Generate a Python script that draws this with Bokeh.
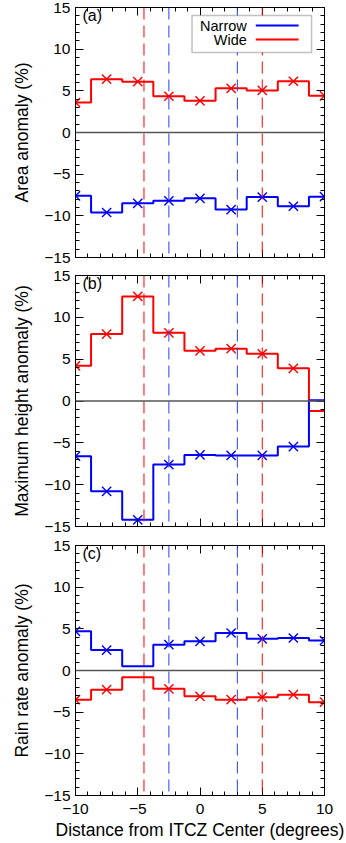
import numpy as np
from bokeh.plotting import figure
from bokeh.layouts import column
from bokeh.models import (Span, Label, BoxAnnotation, Arrow, LinearAxis,
                          SingleIntervalTicker, Range1d, CustomJSTickFormatter)
from bokeh.embed import file_html
from bokeh.resources import INLINE

# ---------------- data ----------------
distance = [-10, -7.5, -5, -2.5, 0, 2.5, 5, 7.5, 10]

area_narrow = [-7.6, -9.6, -8.5, -8.2, -7.9, -9.25, -7.75, -8.85, -7.7]
area_wide = [3.6, 6.4, 6.1, 4.35, 3.8, 5.3, 5.05, 6.15, 4.4]

height_narrow = [-6.6, -10.8, -14.2, -7.6, -6.45, -6.5, -6.5, -5.45, 0.1]
height_wide = [4.2, 8.0, 12.5, 8.15, 6.0, 6.25, 5.65, 3.9, -1.2]

rain_narrow = [4.7, 2.45, 0.5, 3.1, 3.5, 4.5, 3.8, 3.9, 3.6]
rain_wide = [-3.5, -2.3, -0.8, -2.2, -3.1, -3.5, -3.2, -2.9, -3.8]

# points whose "x" symbols are absent in each panel
skip_a = []
skip_b = [8]
skip_c = [2]

narrow_edges = [-2.5, 3.0]
wide_edges = [-4.5, 5.0]

series_names = ["Narrow", "Wide"]
NARROW = "#0000ff"
WIDE = "#ff0000"
FONT = "Liberation Sans"

minus_fmt = "return (tick < 0 ? '\u2212' : '') + Math.abs(tick).toFixed(0);"
blank_fmt = "return '';"


def make_panel(height, b_top, b_bottom, ylabel, letter, narrow, wide, skip,
               show_x, legend=False):
    p = figure(width=346, height=height, x_range=Range1d(-10, 10),
               y_range=Range1d(-15, 15), output_backend="svg",
               toolbar_location=None, min_border_left=75, min_border_right=22,
               min_border_top=b_top, min_border_bottom=b_bottom)
    p.xgrid.visible = False
    p.ygrid.visible = False
    p.outline_line_color = "black"
    p.outline_line_width = 1

    p.xaxis.ticker = SingleIntervalTicker(interval=5, num_minor_ticks=5)
    p.yaxis.ticker = SingleIntervalTicker(interval=5, num_minor_ticks=5)

    for ax in (p.xaxis[0], p.yaxis[0]):
        ax.major_tick_in = 8
        ax.major_tick_out = 0
        ax.minor_tick_in = 4
        ax.minor_tick_out = 0
        ax.axis_line_color = "black"
        ax.major_label_text_font = FONT
        ax.major_label_text_font_size = "15.5px"
        ax.major_label_text_color = "black"
        ax.axis_label_text_font = FONT
        ax.axis_label_text_font_size = "17.5px"
        ax.axis_label_text_font_style = "normal"
        ax.axis_label_text_color = "black"

    p.yaxis.formatter = CustomJSTickFormatter(code=minus_fmt)
    p.yaxis.axis_label = ylabel
    p.yaxis.major_label_standoff = 5
    p.yaxis.axis_label_standoff = 9

    if show_x:
        p.xaxis.formatter = CustomJSTickFormatter(code=minus_fmt)
        p.xaxis.axis_label = "Distance from ITCZ Center (degrees)"
        p.xaxis.major_label_standoff = 8
        p.xaxis.axis_label_standoff = 3
    else:
        p.xaxis.formatter = CustomJSTickFormatter(code=blank_fmt)
        p.xaxis.major_label_text_font_size = "0px"
        p.xaxis.major_label_standoff = 0

    # mirrored axes on top and right
    for loc in ("above", "right"):
        ax = LinearAxis(ticker=SingleIntervalTicker(interval=5, num_minor_ticks=5),
                        formatter=CustomJSTickFormatter(code=blank_fmt),
                        major_tick_in=8, major_tick_out=0,
                        minor_tick_in=4, minor_tick_out=0,
                        major_label_text_font_size="0px",
                        major_label_standoff=0, axis_line_color="black")
        p.add_layout(ax, loc)

    # zero line
    p.add_layout(Span(location=0, dimension="width", line_color="#555555",
                      line_width=1.5))
    # dashed boundaries
    for loc in wide_edges:
        p.add_layout(Span(location=loc, dimension="height", line_color=WIDE,
                          line_width=1, line_dash="12 6"))
    for loc in narrow_edges:
        p.add_layout(Span(location=loc, dimension="height", line_color="#2b3bff",
                          line_width=1, line_dash="12 6"))

    for vals, col in ((wide, WIDE), (narrow, NARROW)):
        p.step(distance, vals, mode="center", line_color=col, line_width=2)
        mx = [d for i, d in enumerate(distance) if i not in skip]
        my = [v for i, v in enumerate(vals) if i not in skip]
        p.scatter(mx, my, marker="x", size=13, line_color=col, line_width=1.4)

    p.add_layout(Label(x=-10, y=15, x_offset=7, y_offset=1, text=letter,
                       text_baseline="top", text_font=FONT,
                       text_font_size="16px", text_color="black"))

    if legend:
        p.add_layout(BoxAnnotation(left=-0.64, right=8.96, top=14.04, bottom=9.6,
                                   fill_color="white", fill_alpha=1.0,
                                   line_color="#333333", line_width=1.5))
        for name, col, yy in ((series_names[0], NARROW, 12.84),
                              (series_names[1], WIDE, 11.16)):
            p.add_layout(Label(x=3.76, y=yy, text=name, text_align="right",
                               text_baseline="middle", text_font=FONT,
                               text_font_size="14.5px", text_color="black"))
            p.add_layout(Arrow(end=None, x_start=4.48, y_start=yy, x_end=7.92,
                               y_end=yy, line_color=col, line_width=2))
    return p


pa = make_panel(266, 7, 9, "Area anomaly (%)", "(a)", area_narrow, area_wide,
                skip_a, False, legend=True)
pb = make_panel(270, 9, 10, "Maximum height anomaly (%)", "(b)", height_narrow,
                height_wide, skip_b, False)
pc = make_panel(307, 9, 48, "Rain rate anomaly (%)", "(c)", rain_narrow,
                rain_wide, skip_c, True)

layout = column(pa, pb, pc, spacing=0)
open("out.html", "w").write(file_html(layout, INLINE))
